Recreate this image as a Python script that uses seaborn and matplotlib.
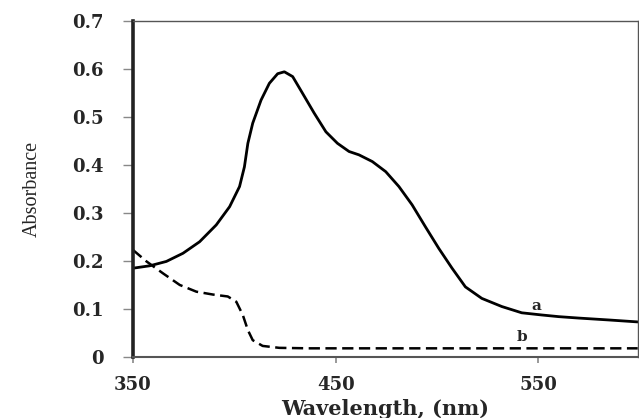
import numpy as np
import pandas as pd
import matplotlib
matplotlib.use("Agg")
import matplotlib.pyplot as plt
import seaborn as sns

# curve a (solid)
wl_a = [350.2, 358.4, 366.5, 374.7, 382.9, 391.1, 397.7, 402.6, 405, 406.7, 409.1,
        413.2, 417.3, 421.4, 424.7, 428.8, 433.7, 439.4, 445.2, 450.9, 456.6,
        461.5, 468.1, 474.7, 481.2, 487.7, 494.3, 500.9, 507.4, 514, 522.1, 532,
        541.8, 551.6, 560, 570, 585, 599]
abs_a = [0.185, 0.190, 0.199, 0.216, 0.240, 0.275, 0.313, 0.355, 0.396, 0.445, 0.487,
         0.535, 0.570, 0.590, 0.594, 0.584, 0.549, 0.508, 0.469, 0.445, 0.428,
         0.421, 0.407, 0.386, 0.355, 0.317, 0.271, 0.226, 0.185, 0.146, 0.122, 0.105,
         0.092, 0.0875, 0.084, 0.081, 0.077, 0.073]

# curve b (dashed)
wl_b = [350, 356.7, 364.9, 373.1, 381.3, 389.5, 396.8, 401, 404.2, 406.7, 409.1,
        414, 422.2, 437, 470, 520, 560, 599]
abs_b = [0.223, 0.199, 0.174, 0.150, 0.136, 0.130, 0.126, 0.115, 0.0875, 0.056, 0.035,
         0.023, 0.019, 0.018, 0.018, 0.018, 0.018, 0.018]

df_a = pd.DataFrame({"wl": wl_a, "A": abs_a})
df_b = pd.DataFrame({"wl": wl_b, "A": abs_b})

sns.set_style("white")
plt.rcParams['font.family'] = ['DejaVu Serif', 'Liberation Serif']

fig = plt.figure(figsize=(6.39, 4.18), dpi=100)
ax = fig.add_axes([0.208, 0.146, 0.79, 0.804])

sns.lineplot(data=df_a, x="wl", y="A", color="black", linewidth=2.0, ax=ax)
sns.lineplot(data=df_b, x="wl", y="A", color="black", linewidth=1.8, ax=ax)
ax.lines[1].set_dashes([4.5, 2.2])
for ln in ax.lines:
    ln.set_solid_joinstyle("round")

ax.text(549, 0.106, "a", fontsize=11, fontweight="bold", ha="center", va="center")
ax.text(542, 0.041, "b", fontsize=11, fontweight="bold", ha="center", va="center")

ax.set_xlim(350, 599)
ax.set_ylim(0, 0.7)
ax.set_xticks([350, 450, 550])
ax.set_yticks([0, 0.1, 0.2, 0.3, 0.4, 0.5, 0.6, 0.7])
ax.set_yticklabels(["0", "0.1", "0.2", "0.3", "0.4", "0.5", "0.6", "0.7"])

for lab in ax.get_xticklabels() + ax.get_yticklabels():
    lab.set_fontweight("bold")
    lab.set_fontsize(13)

ax.tick_params(axis="y", direction="out", length=7, width=1, color="#888888", pad=14, left=True)
ax.tick_params(axis="x", direction="out", length=4, width=1.2, color="#888888", pad=10, bottom=True)

ax.spines["left"].set_linewidth(2.6)
ax.spines["left"].set_color("#222222")
ax.spines["bottom"].set_linewidth(1.5)
ax.spines["bottom"].set_color("#555555")
ax.spines["top"].set_linewidth(1.0)
ax.spines["top"].set_color("#555555")
ax.spines["right"].set_linewidth(1.0)
ax.spines["right"].set_color("#555555")

ax.set_xlabel("Wavelength, (nm)", fontsize=15, fontweight="bold", labelpad=3)
ax.set_ylabel("Absorbance", fontsize=14.5, family=["Liberation Serif", "DejaVu Serif"],
              labelpad=22)

fig.savefig("out.png", dpi=100)
